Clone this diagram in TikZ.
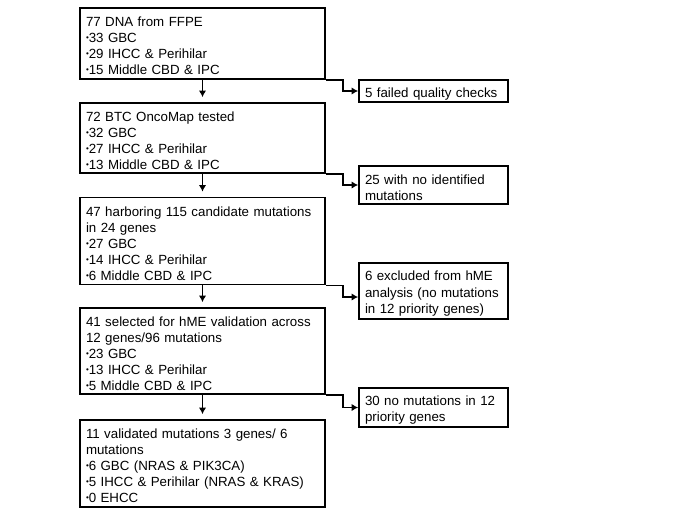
\documentclass[tikz,border=0pt]{standalone}
\usepackage{fontspec}
\setmainfont{Liberation Sans}
\usetikzlibrary{positioning,arrows.meta}
\newcommand{\bul}{\raisebox{2bp}{\fontsize{8bp}{8bp}\selectfont •}}

\begin{document}
\begin{tikzpicture}[>={Latex[length=6.5bp,width=7.5bp]},line join=miter,
  mainbox/.style={draw,line width=1.8bp,inner xsep=6bp,inner ysep=0bp,text width=233bp,align=left,
    font=\fontsize{13.3bp}{16bp}\selectfont,execute at begin node=\rule{0pt}{15bp}},
  sidebox/.style={draw,line width=1.8bp,inner xsep=6bp,inner ysep=0bp,text width=137bp,align=left,
    font=\fontsize{13.3bp}{16.5bp}\selectfont,execute at begin node=\rule{0pt}{15bp}},
  flow/.style={black,line width=1.5bp,->}]
\useasboundingbox (0bp,0bp) rectangle (685bp,-513bp);
%%
\node (dna) at (202.5bp,-43.5bp) [mainbox,minimum height=71bp] {77 DNA from FFPE\\ \bul33 GBC\\ \bul29 IHCC \& Perihilar\\ \bul15 Middle CBD \& IPC};
  \node (oncomap) at (202.5bp,-138bp) [mainbox,minimum height=70bp] {72 BTC OncoMap tested\\ \bul32 GBC\\ \bul27 IHCC \& Perihilar\\ \bul13 Middle CBD \& IPC};
  \node (candidate) at (202.5bp,-241bp) [mainbox,minimum height=87bp] {47 harboring 115 candidate mutations\\ in 24 genes\\ \bul27 GBC\\ \bul14 IHCC \& Perihilar\\ \bul6 Middle CBD \& IPC};
  \node (hme) at (202.5bp,-351bp) [mainbox,minimum height=86bp] {41 selected for hME validation across\\ 12 genes/96 mutations\\ \bul23 GBC\\ \bul13 IHCC \& Perihilar\\ \bul5 Middle CBD \& IPC};
  \node (validated) at (202.5bp,-463.5bp) [mainbox,minimum height=87bp] {11 validated mutations 3 genes/ 6\\ mutations\\ \bul6 GBC (NRAS \& PIK3CA)\\ \bul5 IHCC \& Perihilar (NRAS \& KRAS)\\ \bul0 EHCC};
  \node (failed) at (433.5bp,-91bp) [sidebox,minimum height=22bp] {5 failed quality checks};
  \node (nomut) at (433.5bp,-185bp) [sidebox,minimum height=38bp] {25 with no identified\\ mutations};
  \node (excluded) at (433.5bp,-291bp) [sidebox,minimum height=56bp] {6 excluded from hME\\ analysis (no mutations\\ in 12 priority genes)};
  \node (nopriority) at (433.5bp,-407.5bp) [sidebox,minimum height=39bp] {30 no mutations in 12\\ priority genes};
  \draw [flow,shorten >=5bp] (dna) -- (oncomap);
  \draw [flow,shorten >=5bp] (oncomap) -- (candidate);
  \draw [flow,shorten >=5bp] (candidate) -- (hme);
  \draw [flow,shorten >=5bp] (hme) -- (validated);
  \draw [flow] (dna.south east) -- ++(17bp,0bp) |- (failed.west);
  \draw [flow] (oncomap.south east) -- ++(17bp,0bp) |- (nomut.west);
  \draw [flow] (candidate.south east) -- ++(17bp,0bp) |- ([yshift=-6bp]excluded.west);
  \draw [flow] (hme.south east) -- ++(17bp,0bp) |- (nopriority.west);
%
\end{tikzpicture}
\end{document}
